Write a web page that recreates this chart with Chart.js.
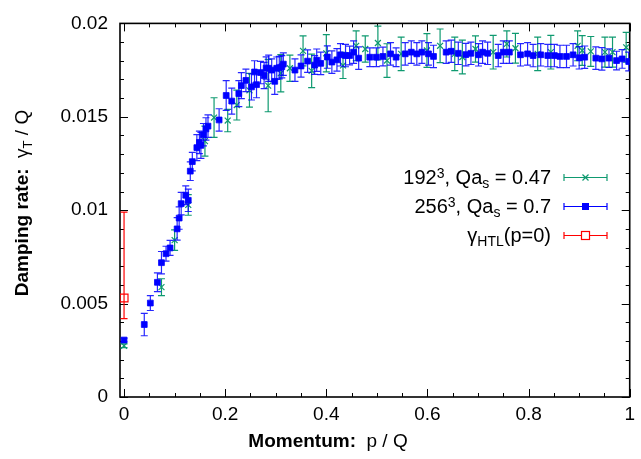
<!DOCTYPE html>
<html>
<head>
<meta charset="utf-8">
<script src="https://cdn.jsdelivr.net/npm/chart.js@4.4.1/dist/chart.umd.min.js"></script>
<style>
html,body{margin:0;padding:0;background:#fff;}
#c{display:block;}
</style>
</head>
<body>
<canvas id="c" width="641" height="459"></canvas>
<script>
// ---- data ----
const blueP = [0,0.040,0.052,0.066,0.074,0.083,0.091,0.105,0.109,0.113,0.122,0.127,0.131,0.135,0.144,0.149,0.152,0.157,0.162,0.166,0.188,0.202,0.213,0.227,0.232,0.241,0.252,0.258,0.262,0.270,0.277,0.281,0.286,0.292,0.298,0.302,0.307,0.312,0.315,0.338,0.350,0.363,0.377,0.381,0.389,0.402,0.411,0.421,0.428,0.438,0.446,0.454,0.464,0.486,0.499,0.512,0.527,0.538,0.556,0.568,0.579,0.589,0.602,0.612,0.637,0.647,0.661,0.676,0.686,0.701,0.709,0.719,0.740,0.750,0.762,0.784,0.798,0.809,0.824,0.838,0.851,0.862,0.875,0.888,0.900,0.911,0.933,0.945,0.959,0.974,0.985,0.998];
const blueY = [0.00305,0.00388,0.00503,0.00614,0.00719,0.00767,0.00798,0.0090,0.00958,0.01035,0.0108,0.01053,0.01209,0.0126,0.01335,0.01363,0.01347,0.01404,0.01435,0.0145,0.01483,0.01614,0.01584,0.01624,0.01667,0.01695,0.0166,0.0174,0.01672,0.01737,0.01721,0.01761,0.0176,0.0175,0.0169,0.0176,0.01763,0.01768,0.01782,0.0175,0.01772,0.01798,0.01777,0.01803,0.01786,0.0182,0.01793,0.01805,0.01832,0.01828,0.01828,0.01846,0.01814,0.01819,0.01819,0.01823,0.01837,0.01819,0.01837,0.01846,0.01837,0.01846,0.01837,0.01823,0.01846,0.01851,0.0184,0.01833,0.0184,0.01832,0.01846,0.0184,0.01828,0.01846,0.01846,0.01832,0.01837,0.01828,0.01832,0.01828,0.01828,0.01823,0.01823,0.01832,0.01816,0.01819,0.01814,0.0181,0.01814,0.01801,0.0181,0.01796];
const blueErr = [0.0001,0.0006,0.0004,0.0005,0.0006,0.0004,0.0004,0.0006,0.0006,0.0006,0.0005,0.0006,0.0005,0.0005,0.0007,0.0006,0.0007,0.0006,0.0006,0.0006,0.0006,0.0008,0.0007,0.0007,0.0007,0.0006,0.0007,0.0006,0.0007,0.0006,0.0007,0.0006,0.0007,0.0006,0.0007,0.0006,0.0006,0.0006,0.0006,0.0006,0.0006,0.0006,0.0005,0.0006,0.0006,0.0006,0.0006,0.0006,0.0006,0.0006,0.0005,0.0006,0.0006,0.0005,0.0005,0.0005,0.0006,0.0005,0.0006,0.0006,0.0006,0.0006,0.0006,0.0006,0.0006,0.0006,0.0006,0.0006,0.0006,0.0006,0.0006,0.0006,0.0006,0.0006,0.0006,0.0006,0.0006,0.0006,0.0006,0.0006,0.0006,0.0006,0.0006,0.0006,0.0006,0.0006,0.0006,0.0006,0.0005,0.0005,0.0005,0.0005];

const greenP = [0,0.074,0.100,0.127,0.160,0.178,0.205,0.223,0.248,0.285,0.310,0.328,0.354,0.371,0.400,0.433,0.459,0.477,0.502,0.520,0.548,0.599,0.625,0.654,0.669,0.695,0.730,0.757,0.774,0.818,0.844,0.897,0.906,0.923,0.951,0.966,0.993];
const greenY = [0.00274,0.00588,0.0084,0.01028,0.0137,0.01496,0.0148,0.01563,0.01642,0.01667,0.01733,0.0176,0.01853,0.01746,0.0184,0.01775,0.0188,0.01863,0.01895,0.01801,0.01837,0.01855,0.0188,0.01837,0.0182,0.01863,0.01846,0.0189,0.01867,0.01837,0.01846,0.0188,0.01855,0.0185,0.01846,0.01846,0.01872];
const greenErr = [0.0001,0.00045,0.00055,0.00055,0.0008,0.00106,0.0006,0.0008,0.0009,0.0014,0.001,0.0007,0.0008,0.0009,0.001,0.0007,0.0008,0.0007,0.0009,0.0009,0.0009,0.0009,0.0009,0.0009,0.0009,0.0007,0.0009,0.0007,0.0008,0.0009,0.0009,0.0008,0.0008,0.0008,0.0008,0.0008,0.0008];

const htlP = [0];
const htlY = [0.0053];
const htlLow = [0.0042];
const htlHigh = [0.0099];

const xTicks = [0,0.2,0.4,0.6,0.8,1];
const xTickLabels = ['0','0.2','0.4','0.6','0.8','1'];
const yTicks = [0,0.005,0.01,0.015,0.02];
const yTickLabels = ['0','0.005','0.01','0.015','0.02'];

// ---- styling ----
const FONT = "'Liberation Sans', Arial, Helvetica, sans-serif";
const BLUE = '#0000ff', GREEN = '#0f9a70', RED = '#ff0000';

function pts(P, Y){ return P.map((p,i)=>({x:p, y:Y[i]})); }

const datasets = [
  { label:'htl', data:pts(htlP,htlY), errLow:htlLow, errHigh:htlHigh, barColor:RED,
    pointStyle:'rect', pointRadius:5.6, borderColor:RED, backgroundColor:'rgba(255,255,255,0)', pointBorderWidth:1.2, showLine:false },
  { label:'256', data:pts(blueP,blueY), errLow:blueY.map((v,i)=>v-blueErr[i]), errHigh:blueY.map((v,i)=>v+blueErr[i]), barColor:'rgba(0,0,255,0.85)',
    pointStyle:'rect', pointRadius:4.1, borderColor:BLUE, backgroundColor:BLUE, pointBorderWidth:0.8, showLine:false },
  { label:'192', data:pts(greenP,greenY), errLow:greenY.map((v,i)=>v-greenErr[i]), errHigh:greenY.map((v,i)=>v+greenErr[i]), barColor:GREEN,
    pointStyle:'crossRot', pointRadius:4.2, borderColor:GREEN, backgroundColor:GREEN, pointBorderWidth:1.2, showLine:false }
];

function drawRich(ctx, segs, x, y, align){
  let total = 0;
  segs.forEach(s=>{ ctx.font = s.font; s.w = ctx.measureText(s.text).width; total += s.w; });
  let cx = align==='right' ? x-total : (align==='center' ? x-total/2 : x);
  ctx.textBaseline = 'alphabetic';
  ctx.textAlign = 'left';
  segs.forEach(s=>{ ctx.font = s.font; ctx.fillText(s.text, cx, y + (s.dy||0)); cx += s.w; });
}

const errorBars = {
  id:'errorBars',
  beforeDatasetDraw(chart, args){
    const ds = chart.data.datasets[args.index];
    if(!ds.errLow) return;
    const xs = chart.scales.x, ys = chart.scales.y, ctx = chart.ctx;
    const a = chart.chartArea;
    ctx.save();
    ctx.beginPath(); ctx.rect(a.left, a.top, a.right-a.left, a.bottom-a.top); ctx.clip();
    ctx.strokeStyle = ds.barColor; ctx.lineWidth = 1.2;
    ds.data.forEach((d,i)=>{
      const px = xs.getPixelForValue(d.x);
      const y1 = ys.getPixelForValue(ds.errLow[i]);
      const y2 = ys.getPixelForValue(ds.errHigh[i]);
      ctx.beginPath();
      ctx.moveTo(px, y1); ctx.lineTo(px, y2);
      ctx.moveTo(px-3.5, y1); ctx.lineTo(px+3.5, y1);
      ctx.moveTo(px-3.5, y2); ctx.lineTo(px+3.5, y2);
      ctx.stroke();
    });
    ctx.restore();
  }
};

const frame = {
  id:'frame',
  beforeDatasetsDraw(chart){
    const ctx = chart.ctx, a = chart.chartArea, xs = chart.scales.x, ys = chart.scales.y;
    ctx.save();
    ctx.strokeStyle = '#000'; ctx.lineWidth = 1;
    ctx.beginPath();
    for(let v=0; v<=1.0001; v+=0.05){
      const px = Math.round(xs.getPixelForValue(v))+0.5;
      const major = Math.abs(v/0.2 - Math.round(v/0.2))<1e-6;
      const L = major?8:4;
      ctx.moveTo(px, a.bottom); ctx.lineTo(px, a.bottom-L);
      ctx.moveTo(px, a.top); ctx.lineTo(px, a.top+L);
    }
    for(let k=0; k<=20; k++){
      const v = k*0.001;
      const py = Math.round(ys.getPixelForValue(v))+0.5;
      const L = (k%5===0)?8:4;
      ctx.moveTo(a.left, py); ctx.lineTo(a.left+L, py);
      ctx.moveTo(a.right, py); ctx.lineTo(a.right-L, py);
    }
    ctx.stroke();
    ctx.lineWidth = 1.6;
    ctx.strokeRect(a.left, a.top, a.right-a.left, a.bottom-a.top);
    ctx.restore();
  },
  afterDraw(chart){
    const ctx = chart.ctx;
    ctx.save();
    ctx.fillStyle = '#000';
    // axis titles
    drawRich(ctx, [
      {text:'Momentum:', font:'bold 19px '+FONT},
      {text:'  p / Q', font:'19px '+FONT}
    ], 328, 447, 'center');
    ctx.save();
    ctx.translate(28, 203);
    ctx.rotate(-Math.PI/2);
    drawRich(ctx, [
      {text:'Damping rate:', font:'bold 19px '+FONT},
      {text:'  \u03B3', font:'19px '+FONT},
      {text:'T', font:'13px '+FONT, dy:4},
      {text:' / Q', font:'19px '+FONT}
    ], 0, 0, 'center');
    ctx.restore();

    // legend
    const rows = [
      {y:177, color:GREEN, kind:'x', segs:[
        {text:'192', font:'20px '+FONT},{text:'3', font:'14px '+FONT, dy:-6},
        {text:', Qa', font:'20px '+FONT},{text:'s', font:'14px '+FONT, dy:4},
        {text:' = 0.47', font:'20px '+FONT}]},
      {y:206, color:BLUE, kind:'sq', segs:[
        {text:'256', font:'20px '+FONT},{text:'3', font:'14px '+FONT, dy:-6},
        {text:', Qa', font:'20px '+FONT},{text:'s', font:'14px '+FONT, dy:4},
        {text:' = 0.7', font:'20px '+FONT}]},
      {y:235, color:RED, kind:'open', segs:[
        {text:'\u03B3', font:'20px '+FONT},{text:'HTL', font:'14px '+FONT, dy:4},
        {text:'(p=0)', font:'20px '+FONT}]}
    ];
    rows.forEach(r=>{
      ctx.fillStyle = '#000';
      drawRich(ctx, r.segs, 551, r.y+7, 'right');
      ctx.strokeStyle = r.color; ctx.fillStyle = r.color; ctx.lineWidth = 1.2;
      const x1 = 564, x2 = 607, cx = 585.5, y = r.y+0.5;
      ctx.beginPath();
      ctx.moveTo(x1, y); ctx.lineTo(x2, y);
      ctx.moveTo(x1, y-3.5); ctx.lineTo(x1, y+3.5);
      ctx.moveTo(x2, y-3.5); ctx.lineTo(x2, y+3.5);
      ctx.stroke();
      if(r.kind==='x'){
        ctx.beginPath();
        ctx.moveTo(cx-3, y-3); ctx.lineTo(cx+3, y+3);
        ctx.moveTo(cx-3, y+3); ctx.lineTo(cx+3, y-3);
        ctx.stroke();
      } else if(r.kind==='sq'){
        ctx.fillRect(cx-3.5, y-3.5, 7, 7);
      } else {
        ctx.fillStyle = '#fff';
        ctx.fillRect(cx-4, y-4, 8, 8);
        ctx.strokeRect(cx-4, y-4, 8, 8);
      }
    });
    ctx.restore();
  }
};

new Chart(document.getElementById('c'), {
  type:'scatter',
  data:{ datasets },
  options:{
    responsive:false,
    animation:false,
    events:[],
    layout:{ padding:{ top:16, right:10, left:0, bottom:0 } },
    plugins:{ legend:{display:false}, tooltip:{enabled:false}, title:{display:false} },
    scales:{
      x:{
        type:'linear', min:-0.008, max:1,
        grid:{ display:false, drawTicks:false },
        border:{ display:false },
        afterBuildTicks(s){ s.ticks = xTicks.map(v=>({value:v})); },
        afterFit(s){ s.height = 62; },
        ticks:{ color:'#000', font:{family:FONT, size:19}, padding:6, maxRotation:0, autoSkip:false,
          callback(v, i){ return xTickLabels[i]; } }
      },
      y:{
        type:'linear', min:0, max:0.02,
        grid:{ display:false, drawTicks:false },
        border:{ display:false },
        afterBuildTicks(s){ s.ticks = yTicks.map(v=>({value:v})); },
        afterFit(s){ s.width = 120; },
        ticks:{ color:'#000', font:{family:FONT, size:19}, padding:12, autoSkip:false,
          callback(v, i){ return yTickLabels[i]; } }
      }
    }
  },
  plugins:[errorBars, frame]
});
</script>
</body>
</html>
